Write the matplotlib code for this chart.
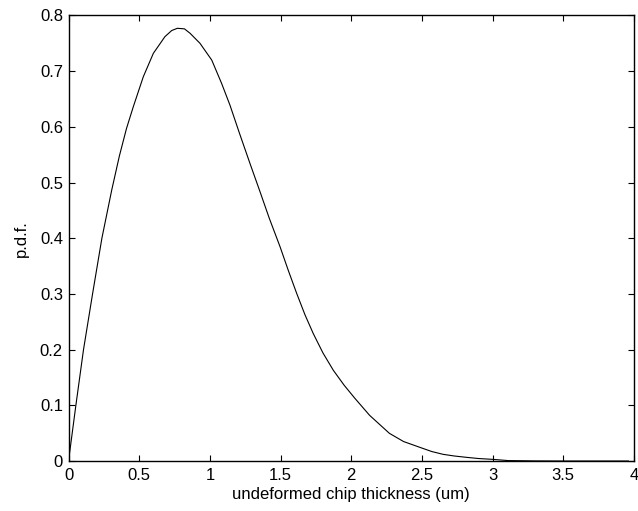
import matplotlib
matplotlib.use("Agg")
import matplotlib.pyplot as plt

# values
thickness = [0.0, 0.052, 0.106, 0.170, 0.236, 0.306, 0.36, 0.41, 0.458, 0.529, 0.60,
             0.682, 0.73, 0.77, 0.82, 0.86, 0.93, 1.013, 1.083, 1.142, 1.21,
             1.284, 1.354, 1.42, 1.496, 1.555, 1.614, 1.672, 1.731, 1.80, 1.873,
             1.95, 2.026, 2.13, 2.27, 2.37, 2.486, 2.57, 2.65, 2.73, 2.816, 2.9,
             3.0, 3.11, 3.3, 3.5, 3.7, 3.96]
pdf = [0.0, 0.10, 0.20, 0.30, 0.40, 0.487, 0.548, 0.597, 0.636, 0.690, 0.732,
       0.762, 0.773, 0.777, 0.776, 0.768, 0.750, 0.72, 0.678, 0.639, 0.588,
       0.534, 0.484, 0.436, 0.385, 0.342, 0.301, 0.263, 0.229, 0.194, 0.163,
       0.136, 0.1125, 0.082, 0.0497, 0.035, 0.0245, 0.017, 0.012, 0.009, 0.0066, 0.0045,
       0.003, 0.0008, 0.0002, 0.0, 0.0, 0.0]

x_ticks = [0, 0.5, 1, 1.5, 2, 2.5, 3, 3.5, 4]
y_ticks = [0, 0.1, 0.2, 0.3, 0.4, 0.5, 0.6, 0.7, 0.8]

plt.rcParams["font.family"] = ["Liberation Sans", "DejaVu Sans"]

fig = plt.figure(figsize=(6.38, 5.11), dpi=100)
ax = fig.add_axes([0.1074, 0.0978, 0.8863, 0.8719])
ax.plot(thickness, pdf, color="black", linewidth=0.8)

ax.set_xlim(0, 4)
ax.set_ylim(0, 0.8)
ax.set_xticks(x_ticks)
ax.set_xticklabels([f"{t:g}" for t in x_ticks])
ax.set_yticks(y_ticks)
ax.set_yticklabels([f"{t:g}" for t in y_ticks])
ax.tick_params(direction="in", top=True, right=True, length=4, width=0.8,
               labelsize=12, colors="black")
ax.tick_params(axis="x", pad=5)
ax.tick_params(axis="y", pad=4)
for s in ax.spines.values():
    s.set_linewidth(1.0)

ax.set_xlabel("undeformed chip thickness (um)", fontsize=12, labelpad=3)
ax.set_ylabel("p.d.f.", fontsize=12, labelpad=8)

fig.savefig("out.png", dpi=100)
